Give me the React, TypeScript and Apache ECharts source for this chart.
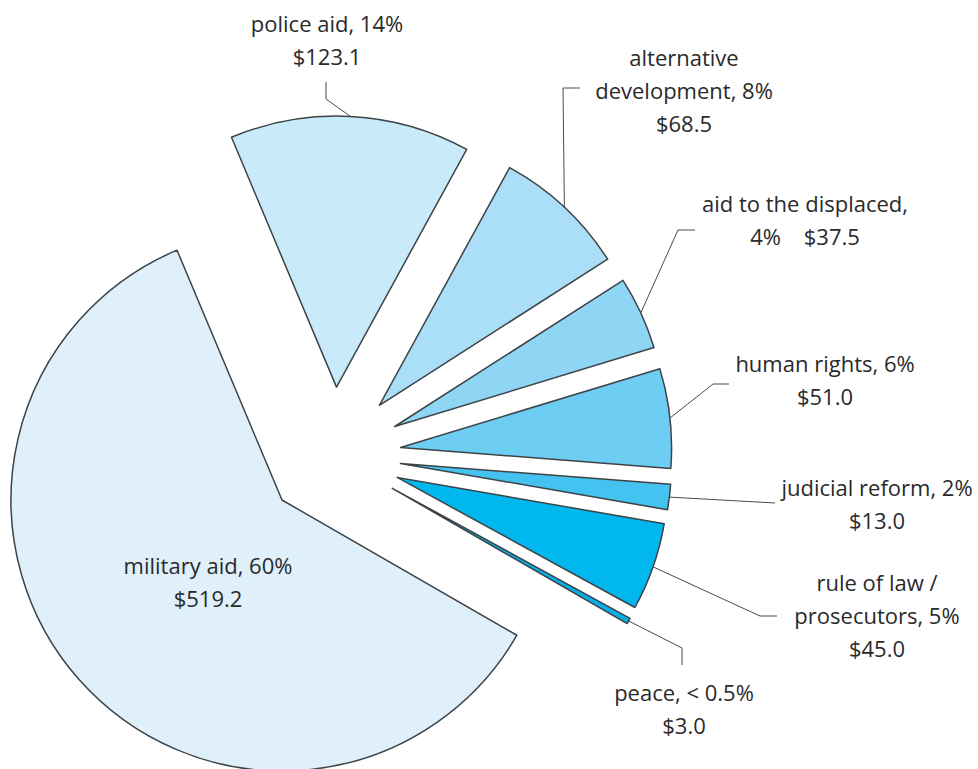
import React, { useEffect, useRef } from 'react';
import * as echarts from 'echarts';

// ---- data ----
const categories = [
  'police aid',
  'alternative development',
  'aid to the displaced',
  'human rights',
  'judicial reform',
  'rule of law / prosecutors',
  'peace',
  'military aid',
];
const amounts = [123.1, 68.5, 37.5, 51.0, 13.0, 45.0, 3.0, 519.2];
const labelLines = [
  ['police aid, 14%', '$123.1'],
  ['alternative', 'development, 8%', '$68.5'],
  ['aid to the displaced,', '4%    $37.5'],
  ['human rights, 6%', '$51.0'],
  ['judicial reform, 2%', '$13.0'],
  ['rule of law /', 'prosecutors, 5%', '$45.0'],
  ['peace, < 0.5%', '$3.0'],
  ['military aid, 60%', '$519.2'],
];

// ---- styles / layout ----
const colors = ['#c8eaf9', '#abdff8', '#8fd6f5', '#6dcdf3', '#45c3f0', '#00b8ee', '#05aee6', '#dff0fb'];
const BORDER = '#3d4347';
const TEXT = '#2a2a2a';
const CENTER = [333, 455];
const RADIUS = 271;
const OFFSET = 68;
const START = 112.8;
const LINE_H = 33;
const FONT = '22px "Open Sans", "Noto Sans", sans-serif';
// label anchor: [centerX, first-line centerY]
const labelAnchors = [
  [327, 23],
  [684, 57],
  [805, 203],
  [825, 363],
  [877, 487],
  [877, 582],
  [684, 692],
  [208, 565],
];
// leader elbows (after the point on the arc)
const leaderElbows = [
  [[326, 99], [326, 82]],
  [[563, 88], [580, 88]],
  [[678, 230], [695, 230]],
  [[713, 384], [729, 384]],
  [[775, 503]],
  [[760, 616], [777, 616]],
  [[682, 648], [682, 665]],
  null,
];

export default function App() {
  const ref = useRef<HTMLDivElement>(null);
  useEffect(() => {
    if (!ref.current) return;
    const chart = echarts.init(ref.current, undefined, { renderer: 'svg' });
    const total = amounts.reduce((a, b) => a + b, 0);
    let acc = 0;
    const mids = amounts.map((v) => {
      const a0 = acc;
      acc += v;
      return (START * Math.PI) / 180 - ((a0 + v / 2) / total) * Math.PI * 2;
    });
    const graphics: any[] = [];
    labelLines.forEach((lines, i) => {
      const [ax, ay] = labelAnchors[i];
      graphics.push({
        type: 'text',
        x: ax,
        y: ay - LINE_H / 2,
        z: 100,
        silent: true,
        style: {
          text: lines.join('\n'),
          font: FONT,
          fill: TEXT,
          align: 'center',
          verticalAlign: 'top',
          lineHeight: LINE_H,
        },
      });
      const elb = leaderElbows[i];
      if (elb) {
        const rr = RADIUS + OFFSET;
        const sx = CENTER[0] + rr * Math.cos(mids[i]);
        const sy = CENTER[1] - rr * Math.sin(mids[i]);
        graphics.push({
          type: 'polyline',
          z: 100,
          silent: true,
          shape: { points: [[sx, sy], ...elb] },
          style: { stroke: '#4a4a4a', lineWidth: 1, fill: null },
        });
      }
    });
    chart.setOption({
      animation: false,
      backgroundColor: '#ffffff',
      series: [
        {
          type: 'pie',
          center: CENTER,
          radius: RADIUS,
          startAngle: START,
          clockwise: true,
          selectedMode: 'multiple',
          selectedOffset: OFFSET,
          silent: true,
          emphasis: { disabled: true },
          label: { show: false },
          labelLine: { show: false },
          itemStyle: { borderColor: BORDER, borderWidth: 1.5 },
          select: { itemStyle: { borderColor: BORDER, borderWidth: 1.5 } },
          data: categories.map((name, i) => ({
            name,
            value: amounts[i],
            selected: true,
            itemStyle: { color: colors[i] },
            select: { itemStyle: { color: colors[i] } },
          })),
        },
      ],
      graphic: graphics,
    });
    return () => chart.dispose();
  }, []);
  return (
    <div
      ref={ref}
      style={{ position: 'fixed', left: 0, top: 0, width: 978, height: 769, background: '#fff' }}
    />
  );
}
